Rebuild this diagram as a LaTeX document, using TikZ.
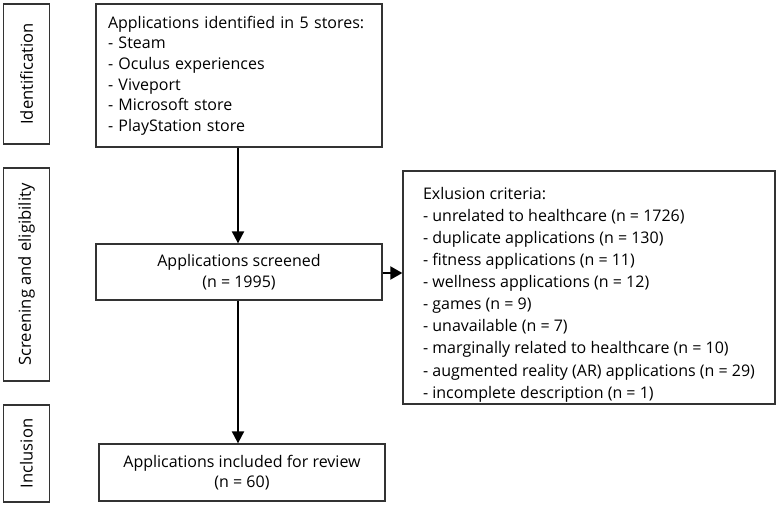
\documentclass[tikz,border=0pt]{standalone}
\usepackage{fontspec}
\setmainfont{Open Sans}
\usetikzlibrary{arrows.meta}
\definecolor{edge}{HTML}{333333}
\begin{document}
\begin{tikzpicture}[x=1pt,y=-1pt,
  every node/.style={font=\fontsize{16}{20.6}\selectfont, text=black},
  box/.style={draw=edge, line width=1.3pt, inner sep=0pt},
  stage/.style={box, minimum width=46pt},
  stagetext/.style={rotate=90, font=\fontsize{16.6}{20}\selectfont},
  flow/.style={line width=2pt, -{Triangle[width=12pt,length=12pt]}},
]
\useasboundingbox (0,0) rectangle (777,504);
% stage labels
\node[stage, minimum height=140pt] (idbox) at (26.5,74) {};
\node[stagetext] (idtext) at (idbox.center) {Identification};
\node[stage, minimum height=213pt] (scbox) at (26.5,274.5) {};
\node[stagetext] (sctext) at (scbox.center) {Screening and eligibility};
\node[stage, minimum height=97pt] (inbox) at (26.5,453.5) {};
\node[stagetext] (intext) at (inbox.center) {Inclusion};
% main boxes
\node[box, minimum width=286pt, minimum height=143pt, text width=262pt, align=left] (top) at (239,75.5)
 {Applications identified in 5 stores:\\- Steam\\- Oculus experiences\\- Viveport\\- Microsoft store\\- PlayStation store};
\node[box, minimum width=286pt, minimum height=56pt, align=center] (scr) at (239,272)
 {Applications screened\\(n = 1995)};
\node[box, minimum width=286pt, minimum height=57pt, align=center] (inc) at (242,472.5)
 {Applications included for review\\(n = 60)};
\node[box, minimum width=372pt, minimum height=233pt] (exc) at (589,287.5) {};
\node[align=left, inner sep=0pt, font=\fontsize{16}{22.1}\selectfont] (exctext) at ([yshift=-7pt]exc.center)
 {Exlusion criteria:\\- unrelated to healthcare (n = 1726)\\- duplicate applications (n = 130)\\- fitness applications (n = 11)\\- wellness applications (n = 12)\\- games (n = 9)\\- unavailable (n = 7)\\- marginally related to healthcare (n = 10)\\- augmented reality (AR) applications (n = 29)\\- incomplete description (n = 1)};
% connectors
\draw[flow] (top.south -| 238,0) -- (scr.north -| 238,0);
\draw[flow] (scr.south -| 238,0) -- (inc.north -| 238,0);
\draw[line width=2pt, -{Triangle[width=13pt,length=12pt]}] (scr.east |- 0,273) -- (exc.west |- 0,273);
\end{tikzpicture}
\end{document}
